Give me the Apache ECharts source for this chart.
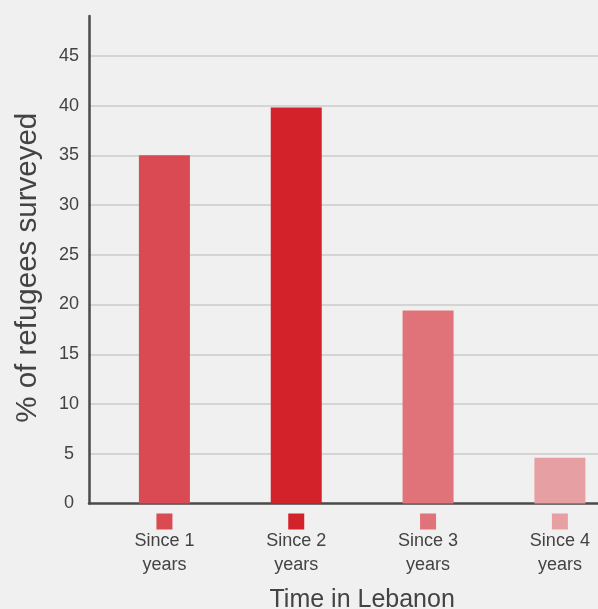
<!DOCTYPE html>
<html>
<head>
<meta charset="utf-8">
<script src="https://cdn.jsdelivr.net/npm/echarts@6/dist/echarts.min.js"></script>
<style>
  html, body { margin: 0; padding: 0; background: #f0f0f0; }
  #chart { width: 598px; height: 609px; }
</style>
</head>
<body>
<div id="chart"></div>
<script>
// Share of surveyed refugees by time spent in Lebanon
const categories = ['Since 1\nyears', 'Since 2\nyears', 'Since 3\nyears', 'Since 4\nyears'];
const shares = [35, 39.8, 19.4, 4.6];
const barColors = ['#d94a52', '#d4222b', '#e07379', '#e6a0a3'];
const yTicks = { min: 0, max: 49, step: 5 };
const yTitle = '% of refugees surveyed';
const xTitle = 'Time in Lebanon';

const FONT = '"Liberation Sans", Arial, sans-serif';
const TEXT = '#434343';
const AXIS = '#4a4a4a';

// square swatch above each category label, coloured like its bar
const rich = { t: { fontFamily: FONT, fontSize: 18, color: TEXT, lineHeight: 24, align: 'center' } };
barColors.forEach((c, i) => {
  rich['m' + i] = { backgroundColor: c, width: 16, height: 16, lineHeight: 16, align: 'center' };
});

const chart = echarts.init(document.getElementById('chart'), null, { renderer: 'canvas' });
chart.setOption({
  backgroundColor: '#f0f0f0',
  animation: false,
  grid: [
    // frame: value axis, gridlines and baseline
    { left: 89, width: 509, top: 16, height: 487.5, containLabel: false, outerBoundsMode: 'none' },
    // bars (plot band runs past the right edge of the canvas)
    { left: 98.5, width: 527.3, top: 16, height: 487.5, containLabel: false, outerBoundsMode: 'none' }
  ],
  xAxis: [
    {
      gridIndex: 0, type: 'value', min: 0, max: 1,
      axisLine: { show: true, lineStyle: { color: AXIS, width: 2.5 } },
      axisTick: { show: false }, axisLabel: { show: false }, splitLine: { show: false }
    },
    {
      gridIndex: 1, type: 'category', data: categories,
      axisLine: { show: false }, axisTick: { show: false },
      axisLabel: {
        margin: 10,
        interval: 0,
        hideOverlap: false,
        formatter: (v, i) => '{m' + i + '|}\n' + v.split('\n').map(s => '{t|' + s + '}').join('\n'),
        rich: rich
      },
      name: xTitle, nameLocation: 'middle', nameGap: 84,
      nameTextStyle: { fontFamily: FONT, fontSize: 25, color: TEXT }
    }
  ],
  yAxis: [
    {
      gridIndex: 0, type: 'value', min: yTicks.min, max: yTicks.max, interval: yTicks.step,
      axisLine: { show: true, lineStyle: { color: AXIS, width: 2.5 } },
      axisTick: { show: false },
      axisLabel: {
        margin: 20, align: 'center', fontFamily: FONT, fontSize: 18, color: TEXT,
        formatter: v => (v % yTicks.step === 0 ? String(v) : ''),
        showMaxLabel: false
      },
      splitLine: { show: true, showMinLine: false, showMaxLine: false, lineStyle: { color: '#d4d4d4', width: 2 } },
      name: yTitle, nameLocation: 'middle', nameGap: 46, nameRotate: 90,
      nameTextStyle: { fontFamily: FONT, fontSize: 29.5, color: TEXT, padding: [0, 16, 0, 0] }
    },
    {
      gridIndex: 1, type: 'value', min: yTicks.min, max: yTicks.max, interval: yTicks.step,
      show: false
    }
  ],
  series: [{
    type: 'bar',
    xAxisIndex: 1, yAxisIndex: 1,
    barWidth: 51,
    data: shares.map((v, i) => ({ value: v, itemStyle: { color: barColors[i] } }))
  }]
});
</script>
</body>
</html>
